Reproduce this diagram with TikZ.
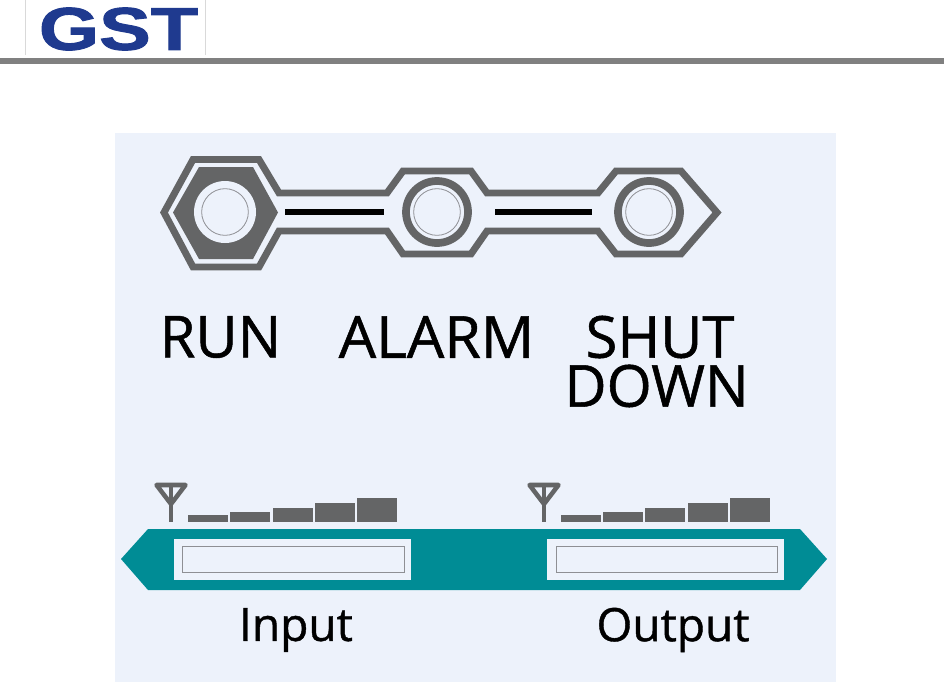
\documentclass[tikz,border=0pt]{standalone}
\usepackage{fontspec}
\setmainfont{Open Sans}[FakeBold=0.9]
\newfontfamily\labelfont{Open Sans}[FakeBold=0.9]
\newfontfamily\logofont{Liberation Sans Bold}[FakeBold=1.5]
\definecolor{panel}{HTML}{EDF2FB}
\definecolor{dark}{HTML}{646566}
\definecolor{teal2}{HTML}{008C95}
\definecolor{rulegray}{HTML}{808080}
\definecolor{logoblue}{HTML}{1F3A8F}
\definecolor{thin}{HTML}{8E8F94}
\tikzset{
  hexline/.style={draw=dark,line width=5.2pt,line join=miter,miter limit=10},
  blackbar/.style={fill=black,draw=none},
  lamp/.style={draw=dark,fill=panel,line width=5.8pt},
  thinring/.style={draw=thin,line width=0.6pt,fill=panel},
  lbl/.style={inner sep=0pt,anchor=center,align=center,font=\labelfont\fontsize{43.5}{36.75}\selectfont},
  alarmlbl/.style={lbl,xscale=1.02},
  sublbl/.style={inner sep=0pt,anchor=center,font=\labelfont\fontsize{34.5}{34.5}\selectfont},
  sigbar/.style={fill=dark,draw=none},
  lcdbox/.style={fill=panel,draw=none},
  lcdinner/.style={draw=thin,line width=0.7pt,fill=panel},
  antenna/.style={draw=dark,line width=3.4pt,line join=round}
}
\begin{document}
\begin{tikzpicture}[x=0.75pt,y=-0.75pt]
\useasboundingbox (0,0) rectangle (944,682);
\fill[white] (0,0) rectangle (944,682);
% header
\draw[draw=black!15,line width=0.75pt] (25.5,0) -- (25.5,55);
\draw[draw=black!15,line width=0.75pt] (205.5,0) -- (205.5,55);
\fill[rulegray] (0,58) rectangle (944,64);
\node[inner sep=0pt,text=logoblue,xscale=1.32,yscale=1.03] (logo) at (118.5,29)
  {\logofont\fontsize{44}{44}\selectfont GST};
% panel
\fill[panel] (115,133) rectangle (836,682);
% outline
\draw[hexline] (164,212.5) -- (193,159.5) -- (259,159.5) -- (279,193) -- (387,193)
  -- (403,171) -- (471,171) -- (487,193) -- (598,193) -- (616,171) -- (681,171)
  -- (717,212.5) -- (681,254) -- (616,254) -- (598,231) -- (487,231) -- (471,254)
  -- (403,254) -- (387,231) -- (279,231) -- (259,267) -- (193,267) -- cycle;
% RUN lamp
\fill[dark] (173,212.5) -- (199,167) -- (253,167) -- (278,212.5) -- (253,259) -- (199,259) -- cycle;
\node[circle,fill=panel,minimum size=46.5pt,inner sep=0pt] (runlamp) at (225,212) {};
\node[circle,thinring,minimum size=35pt,inner sep=0pt] (runring) at (225,212) {};
% other lamps
\node[circle,lamp,minimum size=46.5pt,inner sep=0pt] (alarmlamp) at (437,212) {};
\node[circle,thinring,minimum size=35pt,inner sep=0pt] (alarmring) at (437,212) {};
\node[circle,lamp,minimum size=46.5pt,inner sep=0pt] (shutlamp) at (649,212) {};
\node[circle,thinring,minimum size=35pt,inner sep=0pt] (shutring) at (649,212) {};
% bars
\fill[blackbar] (285,209) rectangle (384,215);
\fill[blackbar] (495,209) rectangle (592,215);
% labels
\node[lbl] (run) at (220.5,337) {RUN};
\node[alarmlbl] (alarm) at (436.5,337) {ALARM};
\node[lbl] (shutdown) at (656.5,361.5) {\hspace*{5.25pt}SHUT\\DOWN};
% antennas
\foreach \ax in {171,544}{
  \draw[antenna] (\ax-14.5,485) -- (\ax+14.5,485) -- (\ax,504) -- cycle;
  \draw[antenna] (\ax,485) -- (\ax,522);
}
% signal bars
\foreach \x/\t in {188/515,230/512,273/507.5,315/503,357/498,561/515,603/512,645/507.5,688/503,730/498}{
  \fill[sigbar] (\x,\t) rectangle (\x+40,522);
}
% band
\fill[teal2] (121,559) -- (148,529) -- (800,529) -- (827,559) -- (800,590) -- (148,590) -- cycle;
\fill[lcdbox] (174,539) rectangle (411,580);
\draw[lcdinner] (182.5,546.5) rectangle (404,572.5);
\fill[lcdbox] (547,539) rectangle (784,580);
\draw[lcdinner] (556,546.5) rectangle (777,572.5);
\node[sublbl] (input) at (296,630) {Input};
\node[sublbl] (output) at (673,630) {Output};
\end{tikzpicture}
\end{document}
